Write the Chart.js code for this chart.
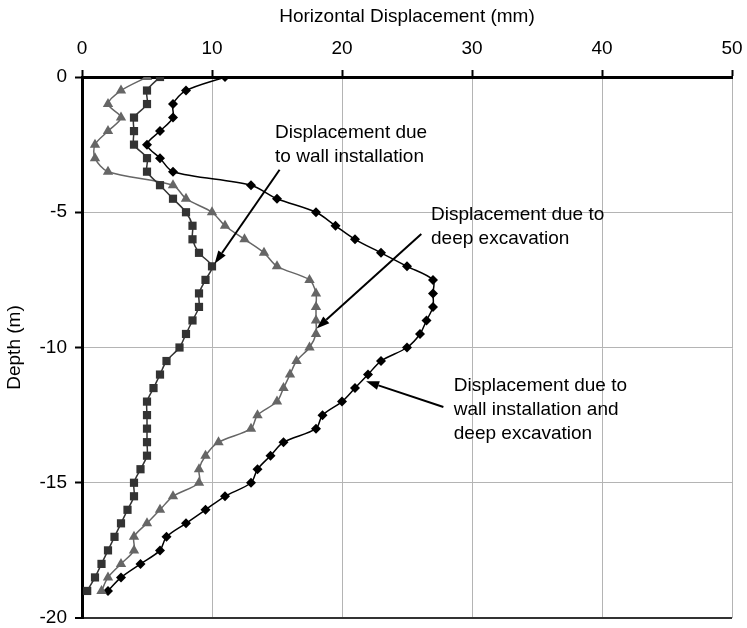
<!DOCTYPE html>
<html>
<head>
<meta charset="utf-8">
<script src="https://cdn.jsdelivr.net/npm/chart.js@4/dist/chart.umd.min.js"></script>
<style>
  html, body { margin: 0; padding: 0; background: #fff; }
  #wrap { width: 747px; height: 628px; }
</style>
</head>
<body>
<div id="wrap"><canvas id="chart" width="747" height="628"></canvas></div>
<script>
// Depth below ground (m), one reading every 0.5 m
const depth = [0, -0.5, -1, -1.5, -2, -2.5, -3, -3.5, -4, -4.5, -5, -5.5, -6, -6.5, -7, -7.5, -8, -8.5, -9, -9.5,
  -10, -10.5, -11, -11.5, -12, -12.5, -13, -13.5, -14, -14.5, -15, -15.5, -16, -16.5, -17, -17.5, -18, -18.5, -19];

// Horizontal displacement (mm) due to wall installation
const wallInstallation = [6, 5, 5, 4, 4, 4, 5, 5, 6, 7, 8, 8.5, 8.5, 9, 10, 9.5, 9, 9, 8.5, 8,
  7.5, 6.5, 6, 5.5, 5, 5, 5, 5, 5, 4.5, 4, 4, 3.5, 3, 2.5, 2, 1.5, 1, 0.4];

// Horizontal displacement (mm) due to deep excavation
const deepExcavation = [5, 3, 2, 3, 2, 1, 1, 2, 7, 8, 10, 11, 12.5, 14, 15, 17.5, 18, 18, 18, 18,
  17.5, 16.5, 16, 15.5, 15, 13.5, 13, 10.5, 9.5, 9, 9, 7, 6, 5, 4, 4, 3, 2, 1.5];

// Horizontal displacement (mm) due to wall installation and deep excavation
const combined = [11, 8, 7, 7, 6, 5, 6, 7, 13, 15, 18, 19.5, 21, 23, 25, 27, 27, 27, 26.5, 26,
  25, 23, 22, 21, 20, 18.5, 18, 15.5, 14.5, 13.5, 13, 11, 9.5, 8, 6.5, 6, 4.5, 3, 2];

const xTicks = [0, 10, 20, 30, 40, 50];
const yTicks = [0, -5, -10, -15, -20];

const xTitle = 'Horizontal Displacement (mm)';
const yTitle = 'Depth (m)';

// Callout texts with their arrows, placed in axis units
const notes = [
  { lines: ['Displacement due', 'to wall installation'], text: [14.85, -2.25], from: [15.2, -3.43], to: [10.2, -6.9] },
  { lines: ['Displacement due to', 'deep excavation'], text: [26.85, -5.28], from: [26.1, -5.8], to: [18.05, -9.3] },
  { lines: ['Displacement due to', 'wall installation and', 'deep excavation'], text: [28.6, -11.59], from: [27.8, -12.2], to: [21.85, -11.25] }
];

const FONT = '"Liberation Sans", Arial, sans-serif';

function pairs(xs) {
  return xs.map((v, i) => ({ x: v, y: depth[i] }));
}

const calloutPlugin = {
  id: 'callouts',
  afterDatasetsDraw(chart) {
    const { ctx, scales: { x, y } } = chart;
    ctx.save();
    ctx.fillStyle = '#000';
    ctx.strokeStyle = '#000';
    ctx.font = '19px ' + FONT;
    ctx.textAlign = 'left';
    ctx.textBaseline = 'alphabetic';
    notes.forEach(n => {
      const tx = x.getPixelForValue(n.text[0]);
      const ty = y.getPixelForValue(n.text[1]);
      n.lines.forEach((s, i) => ctx.fillText(s, tx, ty + i * 24));
      const x0 = x.getPixelForValue(n.from[0]), y0 = y.getPixelForValue(n.from[1]);
      const x1 = x.getPixelForValue(n.to[0]), y1 = y.getPixelForValue(n.to[1]);
      const ang = Math.atan2(y1 - y0, x1 - x0);
      const headLen = 13, headHalf = 4.5;
      const bx = x1 - Math.cos(ang) * headLen, by = y1 - Math.sin(ang) * headLen;
      ctx.lineWidth = 2;
      ctx.beginPath();
      ctx.moveTo(x0, y0);
      ctx.lineTo(bx, by);
      ctx.stroke();
      ctx.beginPath();
      ctx.moveTo(x1, y1);
      ctx.lineTo(bx + Math.sin(ang) * headHalf, by - Math.cos(ang) * headHalf);
      ctx.lineTo(bx - Math.sin(ang) * headHalf, by + Math.cos(ang) * headHalf);
      ctx.closePath();
      ctx.fill();
    });
    ctx.restore();
  }
};

new Chart(document.getElementById('chart'), {
  type: 'scatter',
  data: {
    datasets: [
      {
        label: 'Wall installation',
        data: pairs(wallInstallation),
        showLine: true,
        tension: 0.3,
        borderColor: '#333333',
        backgroundColor: '#333333',
        borderWidth: 1.5,
        pointStyle: 'rect',
        pointRadius: 5.8,
        pointBorderWidth: 0,
        pointBackgroundColor: '#333333'
      },
      {
        label: 'Deep excavation',
        data: pairs(deepExcavation),
        showLine: true,
        tension: 0.3,
        borderColor: '#666666',
        backgroundColor: '#666666',
        borderWidth: 1.5,
        pointStyle: 'triangle',
        pointRadius: 6,
        pointBorderWidth: 0,
        pointBackgroundColor: '#666666'
      },
      {
        label: 'Wall installation and deep excavation',
        data: pairs(combined),
        showLine: true,
        tension: 0.3,
        borderColor: '#000000',
        backgroundColor: '#000000',
        borderWidth: 1.5,
        pointStyle: 'rectRot',
        pointRadius: 5,
        pointBorderWidth: 0,
        pointBackgroundColor: '#000000'
      }
    ]
  },
  options: {
    responsive: false,
    animation: false,
    layout: { padding: { left: 0, right: 15, top: 0, bottom: 10 } },
    plugins: {
      legend: { display: false },
      tooltip: { enabled: false }
    },
    scales: {
      x: {
        type: 'linear',
        position: 'top',
        min: 0,
        max: 50,
        afterBuildTicks: s => { s.ticks = xTicks.map(v => ({ value: v })); },
        afterFit: s => { s.height = 77; s.paddingLeft = 0; s.paddingRight = 0; },
        ticks: { color: '#000', font: { family: FONT, size: 19, lineHeight: 1 }, padding: 12, maxRotation: 0 },
        grid: { color: '#b4b4b4', lineWidth: 1, tickLength: 7, tickColor: '#000', tickWidth: 2 },
        border: { color: '#000', width: 3 },
        title: { display: true, text: xTitle, color: '#000', font: { family: FONT, size: 19, lineHeight: 1 }, padding: { top: 7, bottom: 0 } }
      },
      y: {
        type: 'linear',
        min: -20,
        max: 0,
        afterBuildTicks: s => { s.ticks = yTicks.map(v => ({ value: v })); },
        afterFit: s => { s.width = 82; s.paddingTop = 0; s.paddingBottom = 0; },
        ticks: { color: '#000', font: { family: FONT, size: 19, lineHeight: 1 }, padding: 8 },
        grid: {
          // the lowest line closes the plot and is drawn darker
          color: c => (c.tick && c.tick.value === -20 ? '#333333' : '#b4b4b4'),
          lineWidth: c => (c.tick && c.tick.value === -20 ? 2 : 1),
          tickLength: 7, tickColor: '#000', tickWidth: 2
        },
        border: { color: '#000', width: 3 },
        title: { display: true, text: yTitle, color: '#000', font: { family: FONT, size: 19, lineHeight: 1 }, padding: { top: 5, bottom: 0 } }
      }
    }
  },
  plugins: [calloutPlugin]
});
</script>
</body>
</html>
